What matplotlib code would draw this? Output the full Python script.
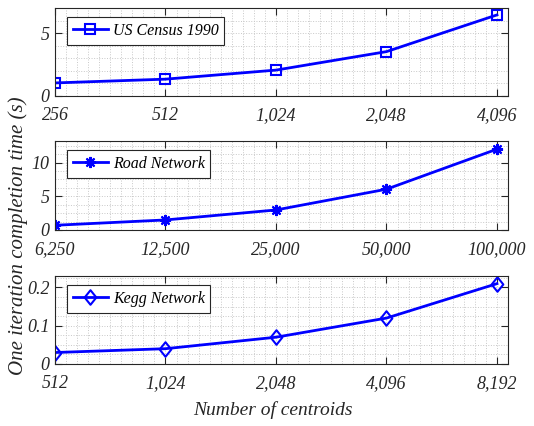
import numpy as np
import matplotlib
matplotlib.use("Agg")
import matplotlib.pyplot as plt
from matplotlib.path import Path
from matplotlib.ticker import FixedLocator, FuncFormatter

plt.rcParams['font.family'] = 'Liberation Serif'
plt.rcParams['font.style'] = 'italic'

# one panel per dataset: centroid counts and per-iteration time in seconds
census_k = [256, 512, 1024, 2048, 4096]
census_t = [1.04, 1.34, 2.06, 3.53, 6.45]

road_k = [6250, 12500, 25000, 50000, 100000]
road_t = [0.7, 1.49, 2.97, 6.05, 11.99]

kegg_k = [512, 1024, 2048, 4096, 8192]
kegg_t = [0.03, 0.04, 0.07, 0.12, 0.21]

# slightly tall diamond marker
diamond = Path([(0, 1), (0.8, 0), (0, -1), (-0.8, 0), (0, 1)],
               [Path.MOVETO, Path.LINETO, Path.LINETO, Path.LINETO, Path.CLOSEPOLY])

panels = [
    (census_k, census_t, 'US Census 1990', 's', 6.5, (0, 7), [0, 5], 1.0),
    (road_k, road_t, 'Road Network', (8, 2, 0), 8, (0, 13.2), [0, 5, 10], 1.25),
    (kegg_k, kegg_t, 'Kegg Network', diamond, 10.5, (0, 0.23), [0, 0.1, 0.2], 0.025),
]

W, H = 534, 426
fig = plt.figure(figsize=(W / 100, H / 100), dpi=100)

boxes = [(8, 96), (141, 230), (276, 364)]
left, right = 55, 508

blue = '#0000ff'
frame = '#262626'

for (xs, ys, name, mk, ms, ylim, yt, ystep), (top, bot) in zip(panels, boxes):
    ax = fig.add_axes([left / W, 1 - bot / H, (right - left) / W, (bot - top) / H])
    ax.set_xscale('log', base=2)
    lo = np.log2(xs[0])
    ax.set_xlim(xs[0], xs[-1] * 2 ** 0.1)
    ax.set_ylim(*ylim)

    ax.xaxis.set_major_locator(FixedLocator(xs))
    ax.xaxis.set_minor_locator(FixedLocator(2 ** (lo + np.arange(0, 41) * 0.1)))
    ax.xaxis.set_major_formatter(FuncFormatter(lambda v, p: f'{int(round(v)):,}'))
    ax.xaxis.set_minor_formatter(FuncFormatter(lambda v, p: ''))

    ax.yaxis.set_major_locator(FixedLocator(yt))
    ax.yaxis.set_minor_locator(FixedLocator(np.arange(0, ylim[1] + 1e-9, ystep)))
    ax.yaxis.set_major_formatter(FuncFormatter(lambda v, p: f'{v:g}'))

    ax.grid(True, which='both', linestyle=':', color='#c8c8c8', linewidth=0.7)
    ax.set_axisbelow(True)

    ax.tick_params(which='major', direction='in', top=True, right=True,
                   length=5, width=0.8, color=frame, labelsize=13,
                   labelcolor='#262626')
    ax.tick_params(axis='x', which='major', pad=8)
    ax.tick_params(axis='y', which='major', pad=4)
    ax.tick_params(which='minor', length=0, top=True, right=True)
    for s in ax.spines.values():
        s.set_color(frame)
        s.set_linewidth(0.8)

    ax.plot(xs, ys, color=blue, linewidth=2, marker=mk, markersize=ms,
            markerfacecolor='none', markeredgecolor=blue, markeredgewidth=1.5,
            label=name)

    leg = ax.legend(loc='upper left', bbox_to_anchor=(0.02, 0.93), fancybox=False,
                    framealpha=1, edgecolor='#262626', fontsize=11.5,
                    handlelength=2.2, handletextpad=0.3, borderpad=0.35,
                    borderaxespad=0.2)
    leg.get_frame().set_linewidth(0.8)

fig.text(18 / W, 1 - 236 / H, 'One iteration completion time (s)', rotation=90,
         ha='center', va='center', fontsize=15, color='#262626')
fig.text(273 / W, 1 - 410 / H, 'Number of centroids', ha='center', va='center',
         fontsize=14, color='#262626')

fig.savefig('out.png', dpi=100)
